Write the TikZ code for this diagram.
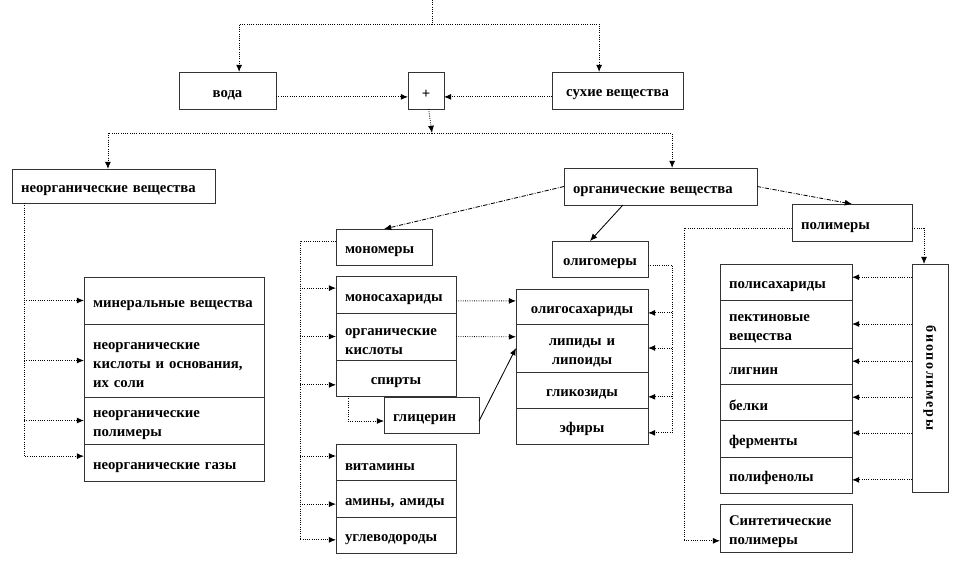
\documentclass[tikz,border=0pt]{standalone}
\usepackage{fontspec}
\setmainfont{Liberation Serif}
\usetikzlibrary{arrows.meta,positioning}

\begin{document}
\begin{tikzpicture}[x=0.025cm, y=-0.025cm,
  box/.style={draw=black!80, line width=0.5pt, fill=white, outer sep=0pt, inner xsep=0.225cm, inner ysep=0pt, font=\bfseries\fontsize{10.5}{13.5}\selectfont, execute at begin node={\rule{0pt}{11.5pt}}},
  lb/.style={box, align=left},
  cb/.style={box, align=center},
  ln/.style={densely dotted, line width=0.6pt},
  con/.style={ln, -{Latex[length=1.8mm,width=1.5mm]}},
  dcon/.style={con, densely dash dot},
  scon/.style={con, solid}]
\useasboundingbox (0,0) rectangle (960,577);

% top level
\node[cb, anchor=north west, minimum width=2.425cm, minimum height=0.925cm] (voda) at (179,72) {вода};
\node[cb, anchor=north west, minimum width=0.9cm, minimum height=0.925cm] (plus) at (408,72) {+};
\node[cb, anchor=north west, minimum width=3.275cm, minimum height=0.925cm] (dry) at (552,72) {сухие вещества};
\node[lb, anchor=north west, text width=4.625cm, minimum height=0.85cm] (inorg) at (12,169) {неорганические вещества};
\node[lb, anchor=north west, text width=4.375cm, minimum height=0.925cm] (org) at (564,168) {органические вещества};

% inorganic group
\node[lb, anchor=north west, text width=4.05cm, minimum height=1.175cm] (mineral) at (84,277) {минеральные вещества};
\node[lb, below=0pt of mineral, text width=4.05cm, minimum height=1.825cm] (acids) {неорганические\\кислоты и основания,\\их соли};
\node[lb, below=0pt of acids, text width=4.05cm, minimum height=1.175cm] (inpoly) {неорганические\\полимеры};
\node[lb, below=0pt of inpoly, text width=4.05cm, minimum height=0.925cm] (gases) {неорганические газы};

% monomers
\node[lb, anchor=north west, text width=1.95cm, minimum height=0.9cm] (mono) at (336,229) {мономеры};
\node[lb, anchor=north west, text width=2.55cm, minimum height=0.925cm] (msac) at (336,276) {моносахариды};
\node[lb, below=0pt of msac, text width=2.55cm, minimum height=1.175cm] (oacid) {органические\\кислоты};
\node[cb, below=0pt of oacid, text width=2.55cm, minimum height=0.9cm] (alc) {спирты};
\node[lb, anchor=north west, text width=1.925cm, minimum height=0.9cm] (glyc) at (384,397) {глицерин};
\node[lb, anchor=north west, text width=2.55cm, minimum height=0.9cm] (vit) at (336,444) {витамины};
\node[lb, below=0pt of vit, text width=2.55cm, minimum height=0.925cm] (amin) {амины, амиды};
\node[lb, below=0pt of amin, text width=2.55cm, minimum height=0.9cm] (hydro) {углеводороды};

% oligomers
\node[cb, anchor=north west, minimum width=2.4cm, minimum height=0.9cm] (oligo) at (552,241) {олигомеры};
\node[cb, anchor=north west, text width=2.85cm, minimum height=0.875cm] (osac) at (516,289) {олигосахариды};
\node[cb, below=0pt of osac, text width=2.85cm, minimum height=1.2cm] (lipid) {липиды и\\липоиды};
\node[cb, below=0pt of lipid, text width=2.85cm, minimum height=0.9cm] (glyco) {гликозиды};
\node[cb, below=0pt of glyco, text width=2.85cm, minimum height=0.9cm] (ether) {эфиры};

% polymers
\node[lb, anchor=north west, text width=2.55cm, minimum height=0.925cm] (poly) at (792,204) {полимеры};
\node[lb, anchor=north west, text width=2.85cm, minimum height=0.9cm] (psac) at (720,264) {полисахариды};
\node[lb, below=0pt of psac, text width=2.85cm, minimum height=1.2cm] (pect) {пектиновые\\вещества};
\node[lb, below=0pt of pect, text width=2.85cm, minimum height=0.9cm] (lign) {лигнин};
\node[lb, below=0pt of lign, text width=2.85cm, minimum height=0.9cm] (prot) {белки};
\node[lb, below=0pt of prot, text width=2.85cm, minimum height=0.925cm] (enz) {ферменты};
\node[lb, below=0pt of enz, text width=2.85cm, minimum height=0.9cm] (phen) {полифенолы};
\node[box, anchor=north west, minimum width=0.9cm, minimum height=5.7cm,
  label={[rotate=-90, font=\bfseries\fontsize{10}{12}\selectfont\addfontfeature{LetterSpace=12}]center:биополимеры}] (bio) at (912,264) {};
\node[lb, anchor=north west, text width=2.85cm, minimum height=1.2cm] (synth) at (720,504) {Синтетические\\полимеры};

% connectors
\coordinate (top) at (432,0);
\coordinate (split) at (432,24);
\draw[ln] (top) -- (split);
\draw[con] (split) -| ([xshift=0.29cm]voda.north);
\draw[con] (split) -| ([xshift=-0.46cm]dry.north);
\draw[con] ([yshift=-0.16cm]voda.east) -- ([yshift=-0.16cm]plus.west);
\draw[con] ([yshift=-0.16cm]dry.west) -- ([yshift=-0.16cm]plus.east);
\coordinate (junc) at (432,133);
\draw[con] (plus) -- (junc);
\draw[con] (junc) -| ([xshift=-0.14cm]inorg.north);
\draw[con] (junc) -| ([xshift=0.29cm]org.north);

\coordinate (lt) at ([xshift=0.3cm]inorg.south west);
\draw[con] (lt) |- ([yshift=0.16cm]gases.west);
\foreach \c in {mineral,acids,inpoly}
  \draw[con] (lt |- \c.west) -- (\c.west);

\draw[dcon] (org.west) -- (mono.north);
\draw[scon] ([xshift=-0.94cm]org.south) -- ([xshift=-0.25cm]oligo.north);
\draw[dcon] (org.east) -- (poly.north);

\coordinate (mt) at ([xshift=-0.9cm,yshift=0.15cm]mono.west);
\draw[con] ([yshift=0.15cm]mono.west) -- (mt) |- ([yshift=-0.12cm]hydro.west);
\foreach \c/\s in {msac/0.16,oacid/0,alc/-0.17,vit/0.15,amin/-0.14} {
  \coordinate (e) at ([yshift=\s cm]\c.west);
  \draw[con] (mt |- e) -- (e);
}
\draw[con] ([xshift=0.3cm]alc.south west) |- ([yshift=-0.15cm]glyc.west);
\draw[scon] ([yshift=-0.15cm]glyc.east) -- (lipid.west);
\draw[con] ([yshift=-0.16cm]msac.east) -- ([yshift=0.14cm]osac.west);
\draw[con] (oacid.east) -- ([yshift=0.28cm]lipid.west);

\coordinate (ot) at ([xshift=0.6cm,yshift=-0.15cm]oligo.east);
\draw[con] ([yshift=-0.15cm]oligo.east) -- (ot) |- ([yshift=-0.17cm]ether.east);
\foreach \c/\s in {osac/-0.16,lipid/0,glyco/-0.17} {
  \coordinate (e) at ([yshift=\s cm]\c.east);
  \draw[con] (ot |- e) -- (e);
}

\coordinate (pl) at ([xshift=-2.7cm,yshift=-0.14cm]poly.west);
\draw[con] ([yshift=-0.14cm]poly.west) -- (pl) |- ([yshift=-0.32cm]synth.west);
\coordinate (pr) at ([xshift=0.3cm,yshift=-0.14cm]poly.east);
\draw[con] ([yshift=-0.14cm]poly.east) -- (pr) -- (pr |- bio.north);
\foreach \c/\s in {psac/0.12,pect/0,lign/0.12,prot/0.12,enz/0.14,phen/-0.12} {
  \coordinate (e) at ([yshift=\s cm]\c.east);
  \draw[con] (bio.west |- e) -- (e);
}
\end{tikzpicture}
\end{document}
